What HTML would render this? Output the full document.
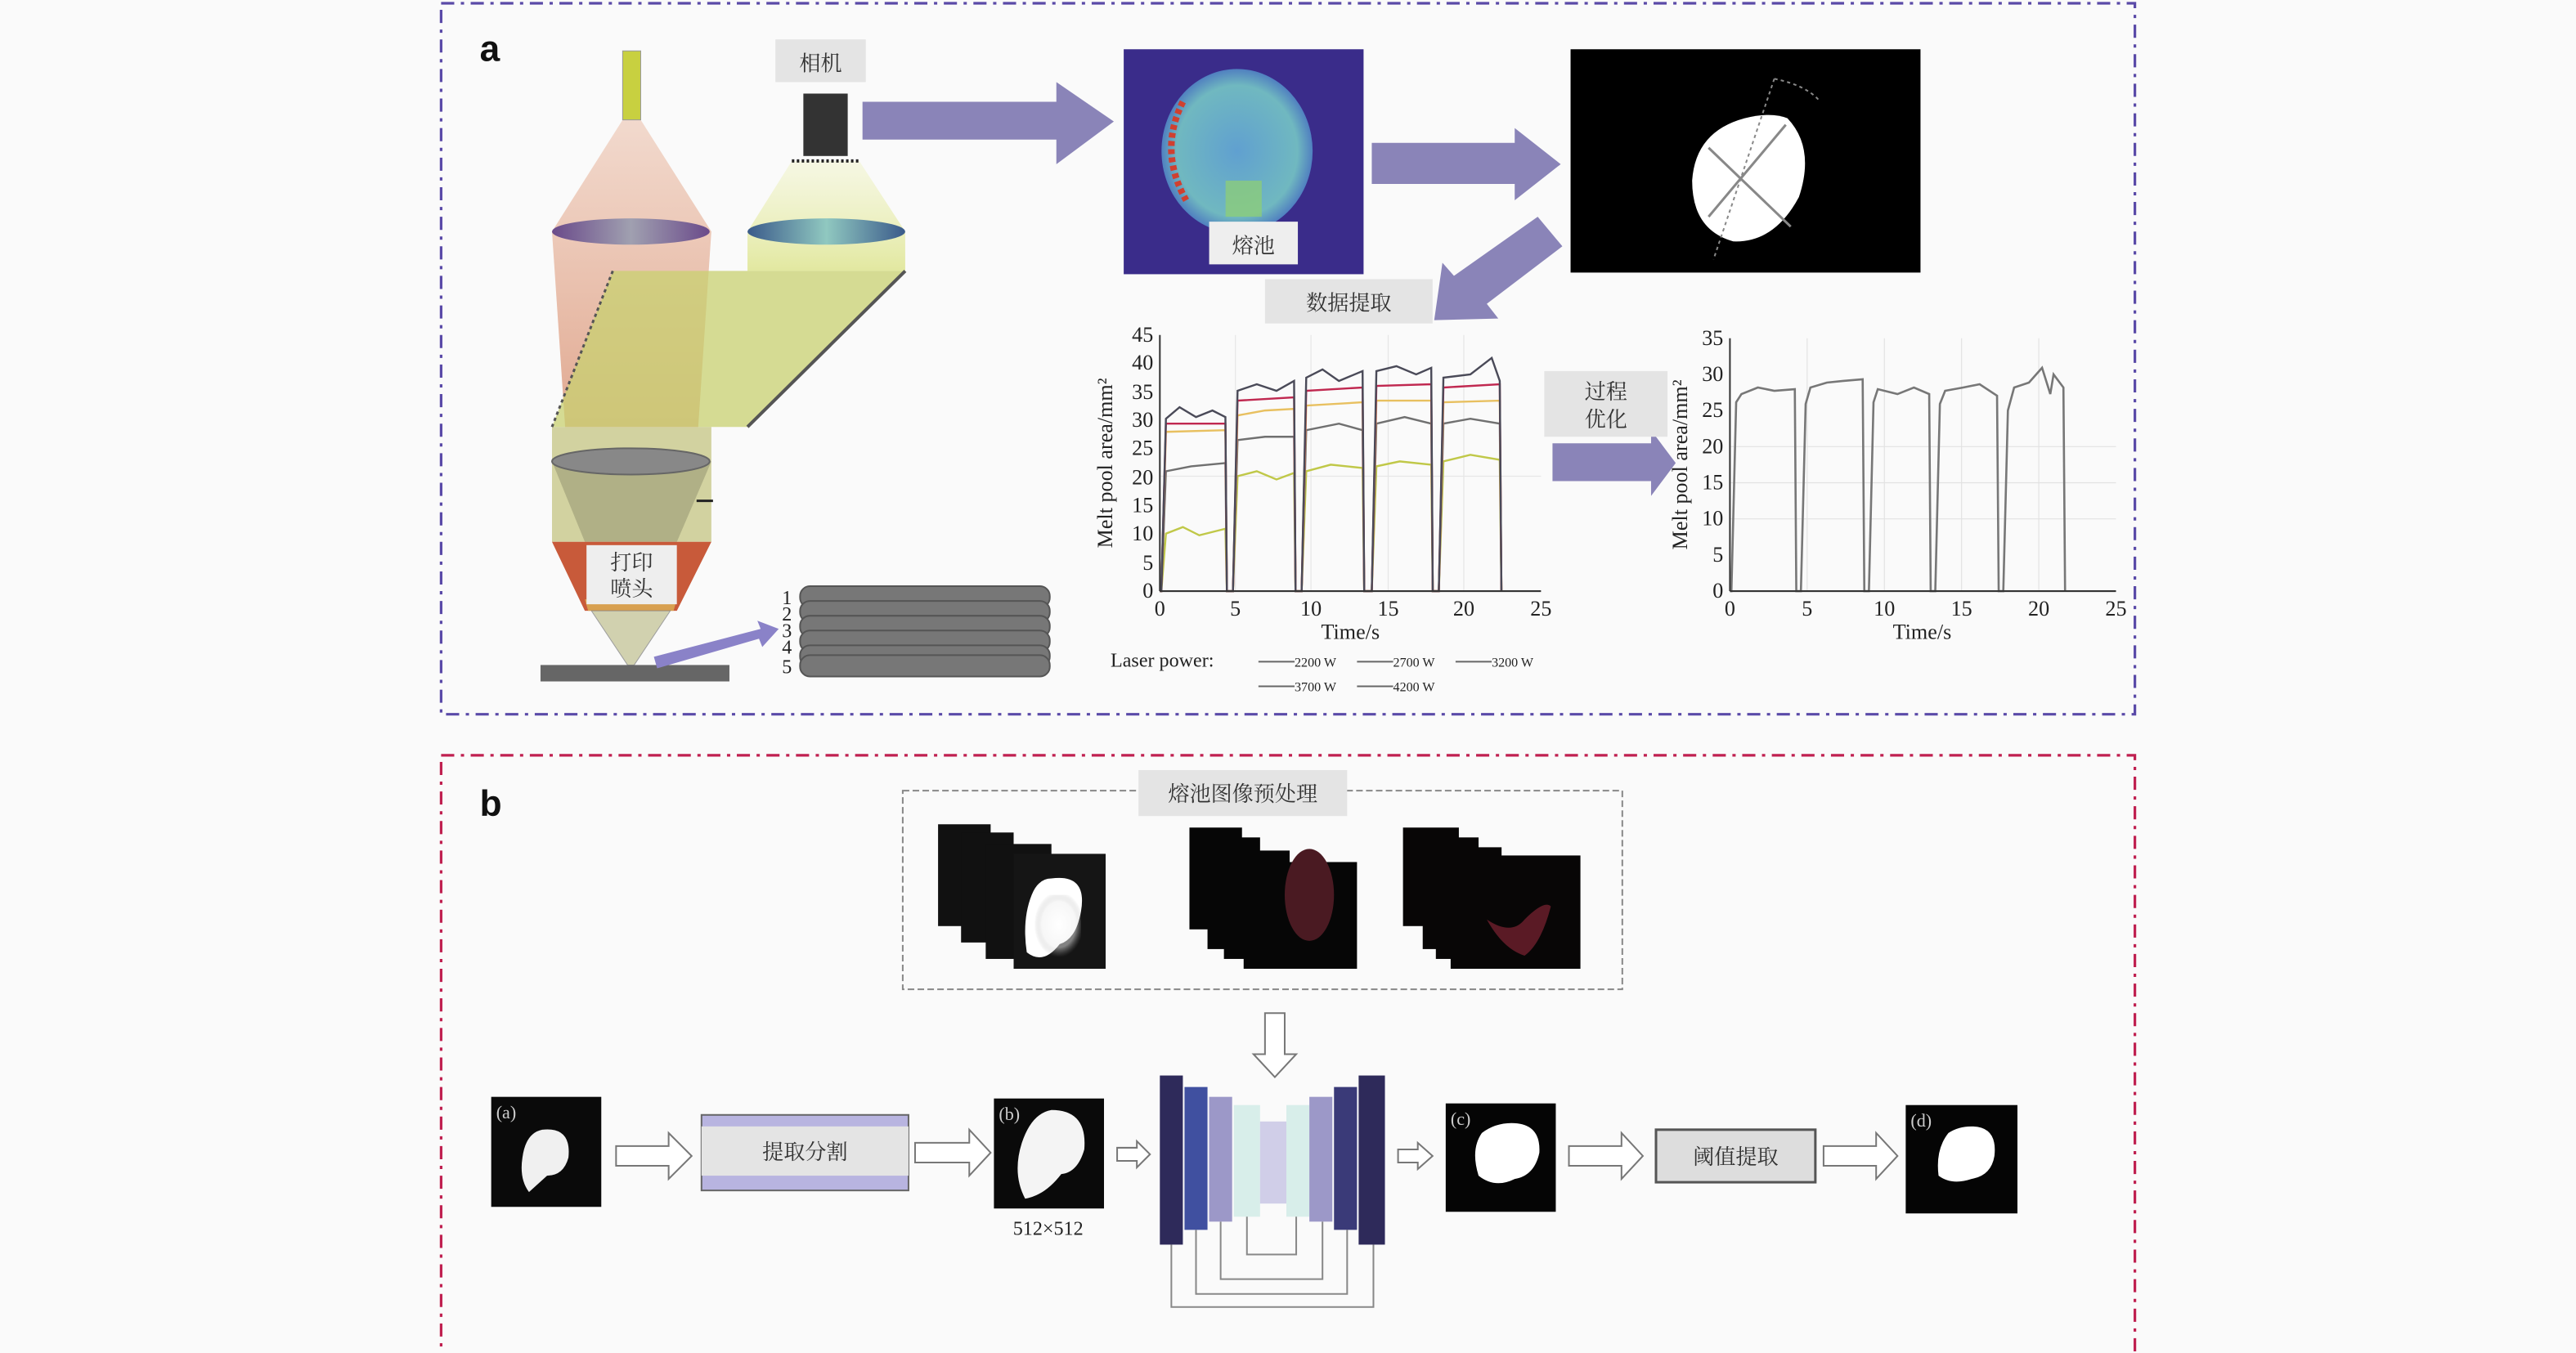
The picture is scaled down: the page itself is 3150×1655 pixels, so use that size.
<!DOCTYPE html>
<html><head><meta charset="utf-8"><style>
html,body{margin:0;padding:0;background:#fafafa;}
svg{display:block;}
.cn{font-family:"Liberation Serif","Noto Serif CJK SC",serif;fill:#333;}
.tx{font-family:"Liberation Serif",serif;fill:#222;}
</style></head><body>
<svg width="3150" height="1655" viewBox="0 0 1568 824" preserveAspectRatio="none" xmlns="http://www.w3.org/2000/svg">
<defs>
<linearGradient id="pink" x1="0" y1="0" x2="0" y2="1"><stop offset="0" stop-color="#e9b8a0" stop-opacity=".5"/><stop offset="1" stop-color="#e0a890"/></linearGradient>
<linearGradient id="yg" x1="0" y1="0" x2="0" y2="1"><stop offset="0" stop-color="#eef2c0" stop-opacity=".4"/><stop offset="1" stop-color="#e2e8a0"/></linearGradient>
<linearGradient id="lens1" x1="0" y1="0" x2="1" y2="0"><stop offset="0" stop-color="#6a4a8a"/><stop offset=".5" stop-color="#a0a0b0"/><stop offset="1" stop-color="#6a4a8a"/></linearGradient>
<linearGradient id="lens2" x1="0" y1="0" x2="1" y2="0"><stop offset="0" stop-color="#3a5a8a"/><stop offset=".5" stop-color="#90c8c0"/><stop offset="1" stop-color="#3a5a8a"/></linearGradient>
<radialGradient id="pool" cx=".5" cy=".5" r=".5"><stop offset="0" stop-color="#60a0d0"/><stop offset=".8" stop-color="#70b8c0"/><stop offset="1" stop-color="#5080c0"/></radialGradient>
<radialGradient id="glow" cx=".55" cy=".45" r=".5"><stop offset="0" stop-color="#fff"/><stop offset=".7" stop-color="#eee"/><stop offset="1" stop-color="#888" stop-opacity="0"/></radialGradient>
</defs>
<rect width="1568" height="824" fill="#fafafa"/>
<!-- frames -->
<rect x="268.5" y="2" width="1031" height="433" fill="none" stroke="#5a4aa8" stroke-width="1.6" stroke-dasharray="8,4,2,4"/>
<rect x="268.5" y="460" width="1031" height="370" fill="none" stroke="#c02050" stroke-width="1.6" stroke-dasharray="8,4,2,4"/>
<text x="292" y="37" font-family="Liberation Sans" font-weight="bold" font-size="22" fill="#111">a</text>
<text x="292" y="497" font-family="Liberation Sans" font-weight="bold" font-size="22" fill="#111">b</text>

<!-- optics -->
<polygon points="336,260 336,330 433,330 433,260" fill="#c8c88a" opacity=".8"/>
<polygon points="379,73 390,73 433,141 425,260 344,260 336,141" fill="url(#pink)"/>
<rect x="379" y="31" width="11" height="42" fill="#c8d040" stroke="#999" stroke-width=".5"/>
<polygon points="482,98 523,98 551,141 551,165 455,165 455,141" fill="url(#yg)"/>
<polygon points="373,165 551,165 455,260 336,260" fill="#c8d070" opacity=".75"/>
<line x1="373" y1="165" x2="336" y2="260" stroke="#555" stroke-width="1.5" stroke-dasharray="2,2"/>
<line x1="551" y1="165" x2="455" y2="260" stroke="#555" stroke-width="2"/>
<polygon points="336,281 433,281 412,330 356,330" fill="#a8a880" opacity=".8"/>
<ellipse cx="384" cy="141" rx="48" ry="8" fill="url(#lens1)"/>
<ellipse cx="503" cy="141" rx="48" ry="8" fill="url(#lens2)"/>
<ellipse cx="384" cy="281" rx="48" ry="8" fill="#888" stroke="#666"/>
<line x1="424" y1="305" x2="434" y2="305" stroke="#222" stroke-width="1.5"/>
<rect x="472" y="24" width="55" height="26" fill="#e4e4e4"/>
<text x="499.5" y="43" class="cn" font-size="13" text-anchor="middle">相机</text>
<rect x="489" y="57" width="27" height="38" fill="#333"/>
<line x1="482" y1="98" x2="523" y2="98" stroke="#222" stroke-width="2" stroke-dasharray="1.5,1.5"/>
<!-- nozzle -->
<polygon points="336,330 433,330 412,372 356,372" fill="#c85a3a"/>
<polygon points="356,365 412,365 410,372 358,372" fill="#d8a050"/>
<rect x="357" y="332" width="55" height="36" fill="#eee"/>
<text x="384.5" y="347" class="cn" font-size="13" text-anchor="middle">打印</text>
<text x="384.5" y="363" class="cn" font-size="13" text-anchor="middle">喷头</text>
<polygon points="360,372 408,372 386,405 382,405" fill="#c0c090" opacity=".7" stroke="#777" stroke-width=".5"/>
<rect x="329" y="405" width="115" height="10" fill="#666"/>
<polygon points="398,400 463,383 461,378 474,383 464,394 462,389 400,407" fill="#8a82c8"/>
<!-- tracks -->
<g fill="#777" stroke="#555" stroke-width="1">
<rect x="487" y="357" width="152" height="13" rx="6"/>
<rect x="487" y="366" width="152" height="13" rx="6"/>
<rect x="487" y="375" width="152" height="13" rx="6"/>
<rect x="487" y="384" width="152" height="13" rx="6"/>
<rect x="487" y="393" width="152" height="13" rx="6"/>
<rect x="487" y="399" width="152" height="13" rx="6"/>
</g>
<g class="tx" font-size="12"><text x="476" y="368">1</text><text x="476" y="378">2</text><text x="476" y="388">3</text><text x="476" y="398">4</text><text x="476" y="410">5</text></g>

<!-- arrows top -->
<polygon points="525,62 643,62 643,50 678,74 643,100 643,85 525,85" fill="#8a84b8"/>
<polygon points="835,87 922,87 922,78 950,100 922,122 922,112 835,112" fill="#8a84b8"/>
<polygon points="936,132 951,150 905,185 912,194 873,195 878,160 885,168" fill="#8a84b8"/>
<polygon points="945,270 1005,270 1005,262 1020,282 1005,302 1005,293 945,293" fill="#8a84b8"/>

<!-- melt pool image -->
<rect x="684" y="30" width="146" height="137" fill="#3a2c8a"/>
<ellipse cx="753" cy="92" rx="46" ry="50" fill="url(#pool)"/>
<path d="M720,62 Q705,92 722,122" fill="none" stroke="#d04030" stroke-width="4" stroke-dasharray="3,2"/>
<rect x="746" y="110" width="22" height="22" fill="#90d070" opacity=".7"/>
<rect x="736" y="135" width="54" height="26" fill="#eee"/>
<text x="763" y="154" class="cn" font-size="13" text-anchor="middle">熔池</text>
<!-- black image -->
<rect x="956" y="30" width="213" height="136" fill="#000"/>
<path d="M1088,72 Q1105,90 1095,120 Q1080,148 1055,147 Q1030,140 1030,110 Q1032,80 1062,72 Q1078,68 1088,72 Z" fill="#fff"/>
<line x1="1040" y1="90" x2="1090" y2="138" stroke="#888" stroke-width="1.5"/>
<line x1="1040" y1="132" x2="1087" y2="76" stroke="#888" stroke-width="1.5"/>
<line x1="1080" y1="48" x2="1043" y2="158" stroke="#888" stroke-width="1" stroke-dasharray="2,2"/>
<path d="M1080,48 Q1100,52 1108,62" fill="none" stroke="#888" stroke-dasharray="2,2"/>
<rect x="770" y="170" width="102" height="27" fill="#e4e4e4"/>
<text x="821" y="189" class="cn" font-size="13" text-anchor="middle">数据提取</text>
<rect x="940" y="226" width="75" height="40" fill="#e4e4e4"/>
<text x="977.5" y="243" class="cn" font-size="13" text-anchor="middle">过程</text>
<text x="977.5" y="260" class="cn" font-size="13" text-anchor="middle">优化</text>

<!-- chart 1 -->
<g stroke="#e6e6e6" stroke-width=".6"><line x1="752" y1="204" x2="752" y2="360"/><line x1="798" y1="204" x2="798" y2="360"/><line x1="845" y1="204" x2="845" y2="360"/><line x1="891" y1="204" x2="891" y2="360"/><line x1="706" y1="290" x2="938" y2="290"/></g>
<g fill="none" stroke-width="1.2">
<path stroke="#c0c848" d="M706,360 L706.9,360 L709.7,325 L720,321 L730,326 L745.9,322 L746.8,360 L750.5,360 L753.3,290 L765,287 L777,292 L787.7,288 L788.6,360 L792.3,360 L795.1,287 L810,283 L829.4,285 L830.4,360 L835,360 L837.8,284 L852,281 L871.2,283 L872.1,360 L875.8,360 L878.6,281 L895,277 L912.9,280 L913.9,360"/>
<path stroke="#707070" d="M706,360 L706.9,360 L709.7,287 L725,284 L745.9,282 L746.8,360 L750.5,360 L753.3,268 L770,266 L787.7,266 L788.6,360 L792.3,360 L795.1,262 L815,258 L829.4,262 L830.4,360 L835,360 L837.8,258 L855,254 L871.2,258 L872.1,360 L875.8,360 L878.6,258 L895,255 L912.9,258 L913.9,360"/>
<path stroke="#e8c060" d="M706,360 L706.9,360 L709.7,263 L745.9,262 L746.8,360 L750.5,360 L753.3,253 L770,250 L787.7,249 L788.6,360 L792.3,360 L795.1,247 L829.4,245 L830.4,360 L835,360 L837.8,244 L871.2,244 L872.1,360 L875.8,360 L878.6,245 L912.9,244 L913.9,360"/>
<path stroke="#c02850" d="M706,360 L706.9,360 L709.7,258 L745.9,258 L746.8,360 L750.5,360 L753.3,244 L787.7,242 L788.6,360 L792.3,360 L795.1,238 L829.4,236 L830.4,360 L835,360 L837.8,235 L871.2,234 L872.1,360 L875.8,360 L878.6,236 L912.9,234 L913.9,360"/>
<path stroke="#4a4a58" d="M706,360 L706.9,360 L709.7,255 L718,248 L728,254 L738,250 L745.9,254 L746.8,360 L750.5,360 L753.3,238 L765,234 L777,238 L787.7,232 L788.6,360 L792.3,360 L795.1,230 L805,225 L815,232 L829.4,226 L830.4,360 L835,360 L837.8,226 L850,223 L862,228 L871.2,224 L872.1,360 L875.8,360 L878.6,230 L895,228 L908,218 L912.9,232 L913.9,360"/>
</g>
<g stroke="#333" stroke-width="1" fill="none"><line x1="706" y1="204" x2="706" y2="360"/><line x1="706" y1="360" x2="938" y2="360"/></g>
<g class="tx" font-size="13" text-anchor="end">
<text x="702" y="364">0</text><text x="702" y="347">5</text><text x="702" y="329">10</text><text x="702" y="312">15</text><text x="702" y="295">20</text><text x="702" y="277">25</text><text x="702" y="260">30</text><text x="702" y="243">35</text><text x="702" y="225">40</text><text x="702" y="208">45</text></g>
<g class="tx" font-size="13" text-anchor="middle">
<text x="706" y="375">0</text><text x="752" y="375">5</text><text x="798" y="375">10</text><text x="845" y="375">15</text><text x="891" y="375">20</text><text x="938" y="375">25</text>
<text x="822" y="389">Time/s</text></g>
<text class="tx" font-size="13" text-anchor="middle" transform="translate(677,282) rotate(-90)">Melt pool area/mm²</text>
<text class="tx" font-size="12" x="676" y="406">Laser power:</text>
<g stroke="#666" stroke-width="1"><line x1="766" y1="403" x2="788" y2="403"/><line x1="826" y1="403" x2="848" y2="403"/><line x1="886" y1="403" x2="908" y2="403"/><line x1="766" y1="418" x2="788" y2="418"/><line x1="826" y1="418" x2="848" y2="418"/></g>
<g class="tx" font-size="8"><text x="788" y="406">2200 W</text><text x="848" y="406">2700 W</text><text x="908" y="406">3200 W</text><text x="788" y="421">3700 W</text><text x="848" y="421">4200 W</text></g>

<!-- chart 2 -->
<g stroke="#e2e2e2" stroke-width=".6"><line x1="1053" y1="316" x2="1288" y2="316"/><line x1="1053" y1="294" x2="1288" y2="294"/><line x1="1053" y1="272" x2="1288" y2="272"/><line x1="1100" y1="206" x2="1100" y2="360"/><line x1="1147" y1="206" x2="1147" y2="360"/><line x1="1194" y1="206" x2="1194" y2="360"/><line x1="1241" y1="206" x2="1241" y2="360"/></g>
<path fill="none" stroke="#777" stroke-width="1.3" d="M1053,360 L1053.9,360 L1056.8,245 L1060,240 L1070,236 L1080,238 L1092.5,237 L1093.4,360 L1096.2,360 L1099.1,246 L1102,236 L1112,233 L1122,232 L1133.8,231 L1134.8,360 L1137.6,360 L1140.4,245 L1143,237 L1155,240 L1165,236 L1174.3,240 L1175.2,360 L1178,360 L1180.8,246 L1184,238 L1195,236 L1205,234 L1215.6,241 L1216.6,360 L1219.4,360 L1222.2,250 L1226,236 L1235,233 L1243,224 L1248,240 L1250,228 L1256,236 L1257,360"/>
<g stroke="#333" stroke-width="1"><line x1="1053" y1="206" x2="1053" y2="360"/><line x1="1053" y1="360" x2="1288" y2="360"/></g>
<g class="tx" font-size="13" text-anchor="end">
<text x="1049" y="364">0</text><text x="1049" y="342">5</text><text x="1049" y="320">10</text><text x="1049" y="298">15</text><text x="1049" y="276">20</text><text x="1049" y="254">25</text><text x="1049" y="232">30</text><text x="1049" y="210">35</text></g>
<g class="tx" font-size="13" text-anchor="middle">
<text x="1053" y="375">0</text><text x="1100" y="375">5</text><text x="1147" y="375">10</text><text x="1194" y="375">15</text><text x="1241" y="375">20</text><text x="1288" y="375">25</text>
<text x="1170" y="389">Time/s</text></g>
<text class="tx" font-size="13" text-anchor="middle" transform="translate(1027,283) rotate(-90)">Melt pool area/mm²</text>

<!-- section b -->
<rect x="549.5" y="481.5" width="438" height="121" fill="none" stroke="#888" stroke-width="1" stroke-dasharray="4,2"/>
<rect x="693" y="469" width="127" height="28" fill="#e4e4e4"/>
<text x="756.5" y="488" class="cn" font-size="13" text-anchor="middle">熔池图像预处理</text>
<!-- stacks -->
<g fill="#111"><rect x="571" y="502" width="32" height="62"/><rect x="585" y="507" width="32" height="67"/><rect x="600" y="514" width="40" height="70"/><rect x="617" y="520" width="56" height="70" fill="#151515"/></g>
<path d="M640,535 Q662,532 658,555 Q655,572 645,575 Q635,588 625,580 Q622,560 628,545 Q632,535 640,535Z" fill="#fff"/>
<rect x="628" y="545" width="30" height="40" fill="url(#glow)" opacity=".5"/>
<g fill="#060606"><rect x="724" y="504" width="32" height="62"/><rect x="735" y="510" width="32" height="68"/><rect x="745" y="518" width="40" height="66"/><rect x="757" y="525" width="69" height="65"/></g>
<ellipse cx="797" cy="545" rx="15" ry="28" fill="#4a1a22"/>
<g fill="#080606"><rect x="854" y="504" width="34" height="60"/><rect x="866" y="510" width="34" height="68"/><rect x="874" y="516" width="40" height="68"/><rect x="883" y="521" width="79" height="69"/></g>
<path d="M905,560 Q920,570 928,560 Q940,548 944,552 Q938,575 928,582 Q915,578 905,560Z" fill="#5a1a25"/>
<!-- down arrow -->
<polygon points="770,617 782,617 782,642 789,642 776,656 763,642 770,642" fill="#fff" stroke="#777"/>

<!-- bottom row images -->
<rect x="299" y="668" width="67" height="67" fill="#0a0a0a"/>
<path d="M330,688 Q348,686 346,705 Q343,716 333,716 L322,726 Q316,718 318,705 Q320,690 330,688Z" fill="#f0f0f0"/>
<text x="302" y="681" font-family="Liberation Serif" font-size="11" fill="#ccc">(a)</text>
<rect x="605" y="669" width="67" height="67" fill="#0a0a0a"/>
<path d="M640,676 Q662,676 660,700 Q656,714 646,715 Q636,728 624,730 Q616,715 622,696 Q628,678 640,676Z" fill="#f4f4f4"/>
<text x="608" y="682" font-family="Liberation Serif" font-size="11" fill="#ccc">(b)</text>
<text x="638" y="752" class="tx" font-size="12" text-anchor="middle">512×512</text>
<rect x="880" y="672" width="67" height="66" fill="#050505"/>
<path d="M920,684 Q938,684 937,702 Q934,716 922,718 Q910,724 900,716 Q895,700 902,690 Q910,684 920,684Z" fill="#fff"/>
<text x="883" y="685" font-family="Liberation Serif" font-size="11" fill="#ccc">(c)</text>
<rect x="1160" y="673" width="68" height="66" fill="#050505"/>
<path d="M1200,686 Q1216,686 1214,704 Q1212,716 1200,718 Q1188,722 1180,716 Q1178,700 1186,690 Q1192,686 1200,686Z" fill="#fff"/>
<text x="1163" y="686" font-family="Liberation Serif" font-size="11" fill="#ccc">(d)</text>
<!-- hollow arrows -->
<g fill="#fff" stroke="#777" stroke-width="1">
<polygon points="375,698 407,698 407,690 421,704 407,718 407,710 375,710"/>
<polygon points="557,696 590,696 590,688 603,702 590,716 590,708 557,708"/>
<polygon points="680,699 692,699 692,695 700,703 692,711 692,707 680,707"/>
<polygon points="851,700 863,700 863,696 872,704 863,712 863,708 851,708"/>
<polygon points="955,698 987,698 987,690 1000,704 987,718 987,710 955,710"/>
<polygon points="1110,698 1142,698 1142,690 1155,704 1142,718 1142,710 1110,710"/>
</g>
<!-- boxes -->
<rect x="427" y="679" width="126" height="46" fill="#b8b4e0" stroke="#666"/>
<rect x="427" y="686" width="126" height="30" fill="#e4e4e4"/>
<text x="490" y="706" class="cn" font-size="13" text-anchor="middle">提取分割</text>
<rect x="1008" y="688" width="97" height="32" fill="#ddd" stroke="#555" stroke-width="1.5"/>
<text x="1056.5" y="709" class="cn" font-size="13" text-anchor="middle">阈值提取</text>
<!-- unet -->
<rect x="706" y="655" width="14" height="103" fill="#2e2a5a"/>
<rect x="721" y="662" width="14" height="87" fill="#4050a0"/>
<rect x="736" y="668" width="14" height="76" fill="#9c98c8"/>
<rect x="751" y="673" width="16" height="68" fill="#d8eeea"/>
<rect x="767" y="683" width="16" height="50" fill="#d0cee8"/>
<rect x="783" y="673" width="14" height="68" fill="#d8eeea"/>
<rect x="797" y="668" width="14" height="76" fill="#9c98c8"/>
<rect x="812" y="662" width="14" height="87" fill="#3a3a78"/>
<rect x="827" y="655" width="16" height="103" fill="#2e2a5a"/>
<g fill="none" stroke="#888" stroke-width="1">
<polyline points="759,741 759,764 789,764 789,741"/>
<polyline points="743,744 743,779 805,779 805,744"/>
<polyline points="728,749 728,788 820,788 820,749"/>
<polyline points="713,758 713,796 836,796 836,758"/>
</g>
</svg>
</body></html>
